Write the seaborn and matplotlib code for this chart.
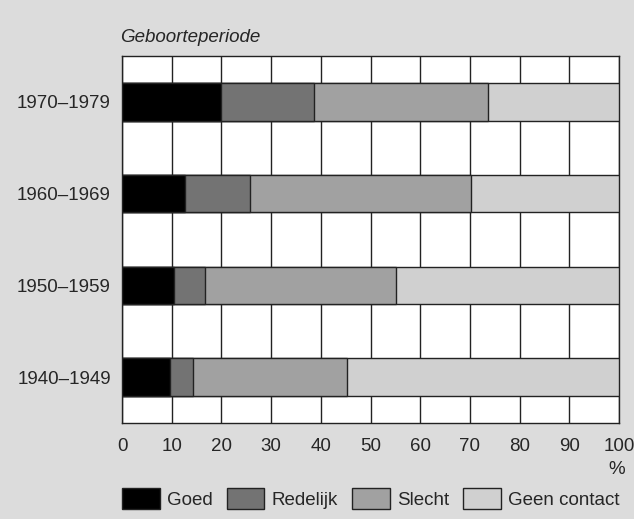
import numpy as np
import pandas as pd
import matplotlib
matplotlib.use("Agg")
import matplotlib.pyplot as plt
import seaborn as sns
from matplotlib.patches import Patch

# ── Data ─────────────────────────────────────────────────────────────────────
periods   = ["1970–1979", "1960–1969", "1950–1959", "1940–1949"]
goed      = [19.9, 12.7, 10.5, 9.7]
redelijk  = [18.8, 13.0, 6.2, 4.6]
slecht    = [34.9, 44.5, 38.5, 30.9]
geen      = [26.4, 29.8, 44.8, 54.8]

categories = ["Goed", "Redelijk", "Slecht", "Geen contact"]
COLORS     = ["#000000", "#737373", "#a1a1a1", "#d0d0d0"]
BG         = "#dcdcdc"

df = pd.DataFrame({"periode": periods, "Goed": goed, "Redelijk": redelijk,
                   "Slecht": slecht, "Geen contact": geen})

sns.set_style("white")
plt.rcParams["font.family"] = ["Liberation Sans", "DejaVu Sans"]
FS = 13.5

fig = plt.figure(figsize=(6.34, 5.19), dpi=100, facecolor=BG)
ax = fig.add_axes([122 / 634, 1 - 423 / 519, 497 / 634, 367 / 519])
ax.set_facecolor("white")

# stacked bars: draw cumulative totals, widest first
cum = df[categories].cumsum(axis=1)
for cat, col in reversed(list(zip(categories, COLORS))):
    sns.barplot(x=cum[cat], y=df["periode"], orient="h", color=col,
                width=0.41, edgecolor="#222222", linewidth=1.0, ax=ax,
                zorder=3)

ax.set_xlim(0, 100)
ax.set_ylim(3.5, -0.5)
ax.set_xticks(range(0, 101, 10))
ax.xaxis.grid(True, color="#222222", linewidth=1.0, zorder=1)
ax.yaxis.grid(False)
ax.set_axisbelow(True)
ax.set_xlabel("")
ax.set_ylabel("")
ax.tick_params(axis="x", length=0, pad=11, labelsize=FS)
ax.tick_params(axis="y", length=0, pad=8, labelsize=FS)
for s in ax.spines.values():
    s.set_color("#222222")
    s.set_linewidth(1.0)

fig.text(120 / 634, 1 - 37 / 519, "Geboorteperiode", style="italic",
         fontsize=FS, ha="left", va="center")
fig.text(617 / 634, 1 - 469 / 519, "%", fontsize=FS, ha="center", va="center")

handles = [Patch(facecolor=c, edgecolor="#222222", linewidth=1.0, label=l)
           for l, c in zip(categories, COLORS)]
fig.legend(handles=handles, ncol=4, frameon=False, fontsize=FS,
           loc="lower left", bbox_to_anchor=(122 / 634, 0.02),
           borderpad=0, borderaxespad=0, handlelength=2.0, handleheight=1.3,
           handletextpad=0.4, columnspacing=0.75)

fig.savefig("out.png", dpi=100, facecolor=BG)
